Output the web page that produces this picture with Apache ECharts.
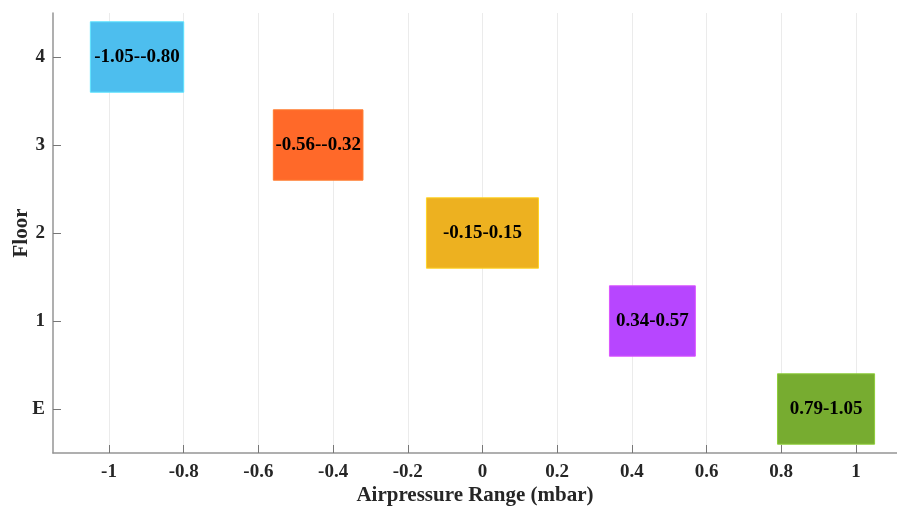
<!DOCTYPE html>
<html>
<head>
<meta charset="utf-8">
<script src="https://cdn.jsdelivr.net/npm/echarts@6/dist/echarts.min.js"></script>
<style>
  html, body { margin: 0; padding: 0; background: #fff; }
  #chart { width: 897px; height: 510px; }
</style>
</head>
<body>
<div id="chart"></div>
<script>
// Floors, bottom to top
const floors = ['E', '1', '2', '3', '4'];
// Air pressure range per floor (mbar)
const rangeLow  = [0.79, 0.34, -0.15, -0.56, -1.05];
const rangeHigh = [1.05, 0.57,  0.15, -0.32, -0.80];
const barColors = ['#77AC30', '#B746FF', '#EDB120', '#FF6929', '#4DBEEE'];
const xTicks = [-1, -0.8, -0.6, -0.4, -0.2, 0, 0.2, 0.4, 0.6, 0.8, 1];
const xMin = -1.15, xMax = 1.11;

const fontFamily = '"Liberation Serif", "Times New Roman", serif';

const data = floors.map((f, i) => ({
  value: [rangeLow[i], rangeHigh[i], i],
  label: rangeLow[i].toFixed(2) + '-' + rangeHigh[i].toFixed(2),
  color: barColors[i]
}));

const chart = echarts.init(document.getElementById('chart'), null, { renderer: 'canvas' });

chart.setOption({
  backgroundColor: '#fff',
  animation: false,
  grid: { left: 53, right: 0, top: 13, bottom: 57, outerBoundsMode: 'none' },
  xAxis: [{
    // main axis: line, ticks, labels, name (drawn above the bars and gridlines)
    type: 'value',
    z: 3,
    min: xMin,
    max: xMax,
    name: 'Airpressure Range (mbar)',
    nameLocation: 'middle',
    nameGap: 32,
    nameMoveOverlap: false,
    nameTextStyle: { fontFamily, fontWeight: 'bold', fontSize: 21, color: '#262626' },
    axisLine: { show: true, onZero: false, lineStyle: { color: '#959595', width: 1.5 } },
    axisTick: { show: true, inside: true, length: 8, customValues: xTicks, lineStyle: { color: '#777', width: 1 } },
    axisLabel: {
      customValues: xTicks,
      margin: 10,
      fontFamily, fontWeight: 'bold', fontSize: 19, color: '#262626',
      formatter: v => String(Math.round(v * 10) / 10)
    },
    splitLine: { show: false }
  }, {
    // vertical gridlines, kept beneath the bars
    type: 'value',
    z: 1,
    min: xMin,
    max: xMax,
    position: 'bottom',
    axisLine: { show: false },
    axisTick: { show: false, customValues: xTicks },
    axisLabel: { show: true, customValues: xTicks, formatter: () => '' },
    splitLine: { show: true, lineStyle: { color: '#ebebeb', width: 1 } }
  }],
  yAxis: {
    type: 'category',
    z: 3,
    data: floors,
    boundaryGap: true,
    name: 'Floor',
    nameLocation: 'middle',
    nameGap: 21,
    nameMoveOverlap: false,
    nameTextStyle: { fontFamily, fontWeight: 'bold', fontSize: 21, color: '#262626' },
    axisLine: { show: true, onZero: false, lineStyle: { color: '#959595', width: 1.5 } },
    axisTick: { show: true, inside: true, length: 8, alignWithLabel: true, lineStyle: { color: '#777', width: 1 } },
    axisLabel: { margin: 8, fontFamily, fontWeight: 'bold', fontSize: 19, color: '#262626' },
    splitLine: { show: false }
  },
  series: [{
    type: 'custom',
    z: 2,
    xAxisIndex: 0,
    data: data,
    renderItem: function (params, api) {
      const item = data[params.dataIndex];
      const idx = api.value(2);
      const p0 = api.coord([api.value(0), idx]);
      const p1 = api.coord([api.value(1), idx]);
      const h = api.size([0, 1])[1] * 0.8;
      return {
        type: 'rect',
        shape: { x: p0[0], y: p0[1] - h / 2, width: p1[0] - p0[0], height: h },
        style: { fill: item.color, stroke: echarts.color.lift(item.color, -0.2), lineWidth: 1 },
        textContent: {
          type: 'text',
          style: { text: item.label, fontFamily, fontWeight: 'bold', fontSize: 19, fill: '#000' }
        },
        textConfig: { position: 'inside' }
      };
    }
  }]
});
</script>
</body>
</html>
